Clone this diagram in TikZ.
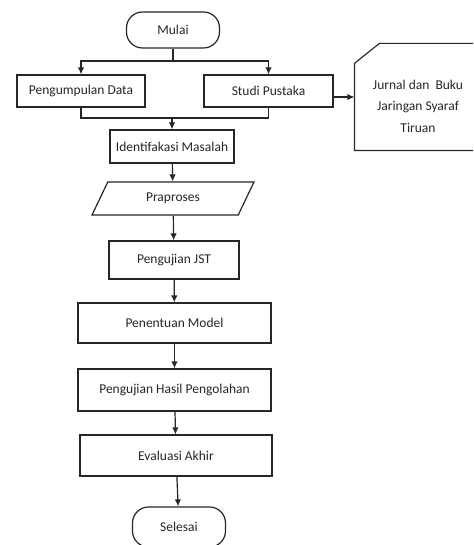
\documentclass[tikz,border=0pt]{standalone}
\usepackage{fontspec}
\setmainfont{Carlito}
\usetikzlibrary{arrows.meta,shapes.geometric}

\begin{document}
\begin{tikzpicture}[x=1pt,y=-1pt,line width=1.2pt,draw=black!85,
        box/.style={draw,rectangle,inner sep=2pt},
        terminal/.style={draw,rectangle,rounded corners=16pt,minimum width=93pt},
        io/.style={draw,trapezium,trapezium left angle=48,trapezium right angle=132,trapezium stretches body,minimum width=162pt,minimum height=33pt},
        arrow/.style={-{Latex[length=7pt,width=6.5pt]}},
        font=\fontsize{13.5}{21.5}\selectfont,text=black!85]
        \useasboundingbox (0,0) rectangle (473,545);
        \clip (0,0) rectangle (473,545);
        \node[terminal,minimum height=36pt] (mulai) at (173,30) {Mulai};
        \node[box,minimum width=128pt,minimum height=32pt] (kumpul) at (81,91) {Pengumpulan Data};
        \node[box,minimum width=129pt,minimum height=32pt] (studi) at (268.5,91) {Studi Pustaka};
        \node[minimum width=126pt,minimum height=106pt] (jurnal) at (418,97) {};
        \node[align=center] (jurnalteks) at (418,106) {Jurnal dan~ Buku\\Jaringan Syaraf\\Tiruan};
        \node[box,minimum width=124pt,minimum height=33pt] (identifikasi) at (172,146.5) {Identifakasi Masalah};
        \node[io] (praproses) at (173,198.5) {Praproses};
        \node[box,minimum width=130pt,minimum height=38pt] (jst) at (174,260) {Pengujian JST};
        \node[box,minimum width=193pt,minimum height=40pt] (model) at (174.5,323) {Penentuan Model};
        \node[box,minimum width=193pt,minimum height=42pt] (hasil) at (174.5,390) {Pengujian Hasil Pengolahan};
        \node[box,minimum width=192pt,minimum height=41pt] (evaluasi) at (176,455.5) {Evaluasi Akhir};
        \node[terminal,minimum height=40pt] (selesai) at (179,527) {Selesai};
        \coordinate (cabang) at (173,61);
        \coordinate (gabung) at (172,118);
        \draw (jurnal.south west) -- ([yshift=-20pt]jurnal.north west) -- ([xshift=25pt]jurnal.north west) -- (jurnal.north east) -- (jurnal.south east) -- cycle;
        \draw (mulai) -- (cabang);
        \draw[arrow] (cabang) -| (kumpul.north);
        \draw[arrow] (cabang) -| (studi.north);
        \draw (kumpul.south) |- (gabung) -| (studi.south);
        \draw[arrow] (gabung) -- (identifikasi.north);
        \draw[arrow] ([yshift=-6pt]studi.east) -- ([yshift=-6pt]studi.east -| jurnal.west);
        \draw[arrow] (identifikasi) -- (praproses);
        \draw[arrow] (praproses) -- (jst);
        \draw[arrow] (jst) -- (model);
        \draw[arrow] (model) -- (hasil);
        \draw[arrow] (hasil) -- (evaluasi);
        \draw[arrow] (evaluasi) -- (selesai);
      \end{tikzpicture}
\end{document}
